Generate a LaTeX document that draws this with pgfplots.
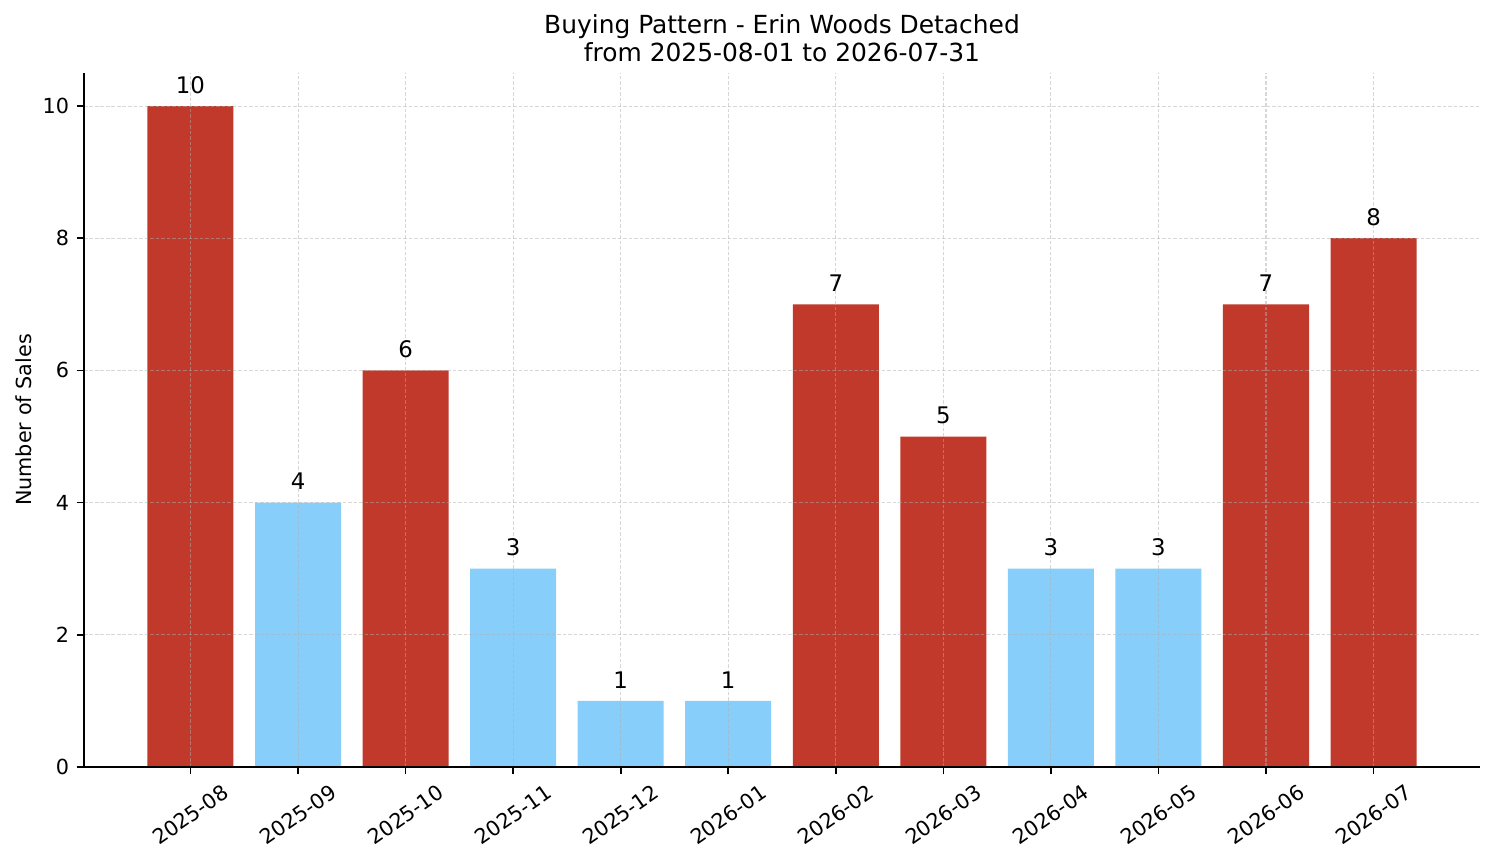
\documentclass[border=0pt]{standalone}
\usepackage{pgfplots}
\pgfplotsset{compat=1.18}
\usepackage{fontspec}
\setmainfont{DejaVu Sans}
\definecolor{barred}{HTML}{C0392B}
\definecolor{barblue}{HTML}{87CEFA}
\definecolor{gridgray}{HTML}{B0B0B0}
\begin{document}
\begin{tikzpicture}
\useasboundingbox (-0.56in,-0.64in) rectangle (9.4in,5.11333in);
\begin{axis}[
  at={(0,0)}, anchor=south west,
  scale only axis,
  width=9.30667in, height=4.62667in,
  xmin=-0.99, xmax=11.99, ymin=0, ymax=10.5,
  xtick={0,...,11},
  xticklabels={2025-08,2025-09,2025-10,2025-11,2025-12,2026-01,2026-02,2026-03,2026-04,2026-05,2026-06,2026-07},
  ytick={0,2,4,6,8,10},
  axis x line*=bottom, axis y line*=left,
  axis line style={line width=0.8pt, black},
  tick align=outside, major tick length=3.5pt,
  tick style={line width=0.8pt, black},
  grid=major,
  major grid style={line width=0.5pt, gridgray, opacity=0.5, dash pattern=on 1.85pt off 0.8pt},
  axis on top,
  ybar, bar width=0.8, bar shift=0pt,
  /pgf/number format/assume math mode=true,
  font=\fontsize{10}{12}\selectfont,
  xticklabel style={yshift=-19.5pt, rotate=35, anchor=center, font=\fontsize{10}{12}\selectfont},
  yticklabel style={inner sep=0pt, xshift=-3.5pt, font=\fontsize{10}{12}\selectfont},
  ylabel={Number of Sales},
  ylabel style={at={(axis description cs:-0.043,0.5)}, anchor=center, font=\fontsize{10}{12}\selectfont},
  title={Buying Pattern - Erin Woods Detached\\from 2025-08-01 to 2026-07-31},
  title style={at={(axis description cs:0.5,1)}, anchor=south, inner sep=0pt, yshift=-0.95pt, align=center, font=\fontsize{12}{13.4}\selectfont},
  nodes near coords,
  nodes near coords style={anchor=base, inner sep=0pt, yshift=6.2pt, font=\fontsize{11}{13}\selectfont, black},
]
\addplot[fill=barred, draw=none] coordinates {(0,10) (2,6) (6,7) (7,5) (10,7) (11,8)};
\addplot[fill=barblue, draw=none] coordinates {(1,4) (3,3) (4,1) (5,1) (8,3) (9,3)};
\end{axis}
\end{tikzpicture}
\end{document}
